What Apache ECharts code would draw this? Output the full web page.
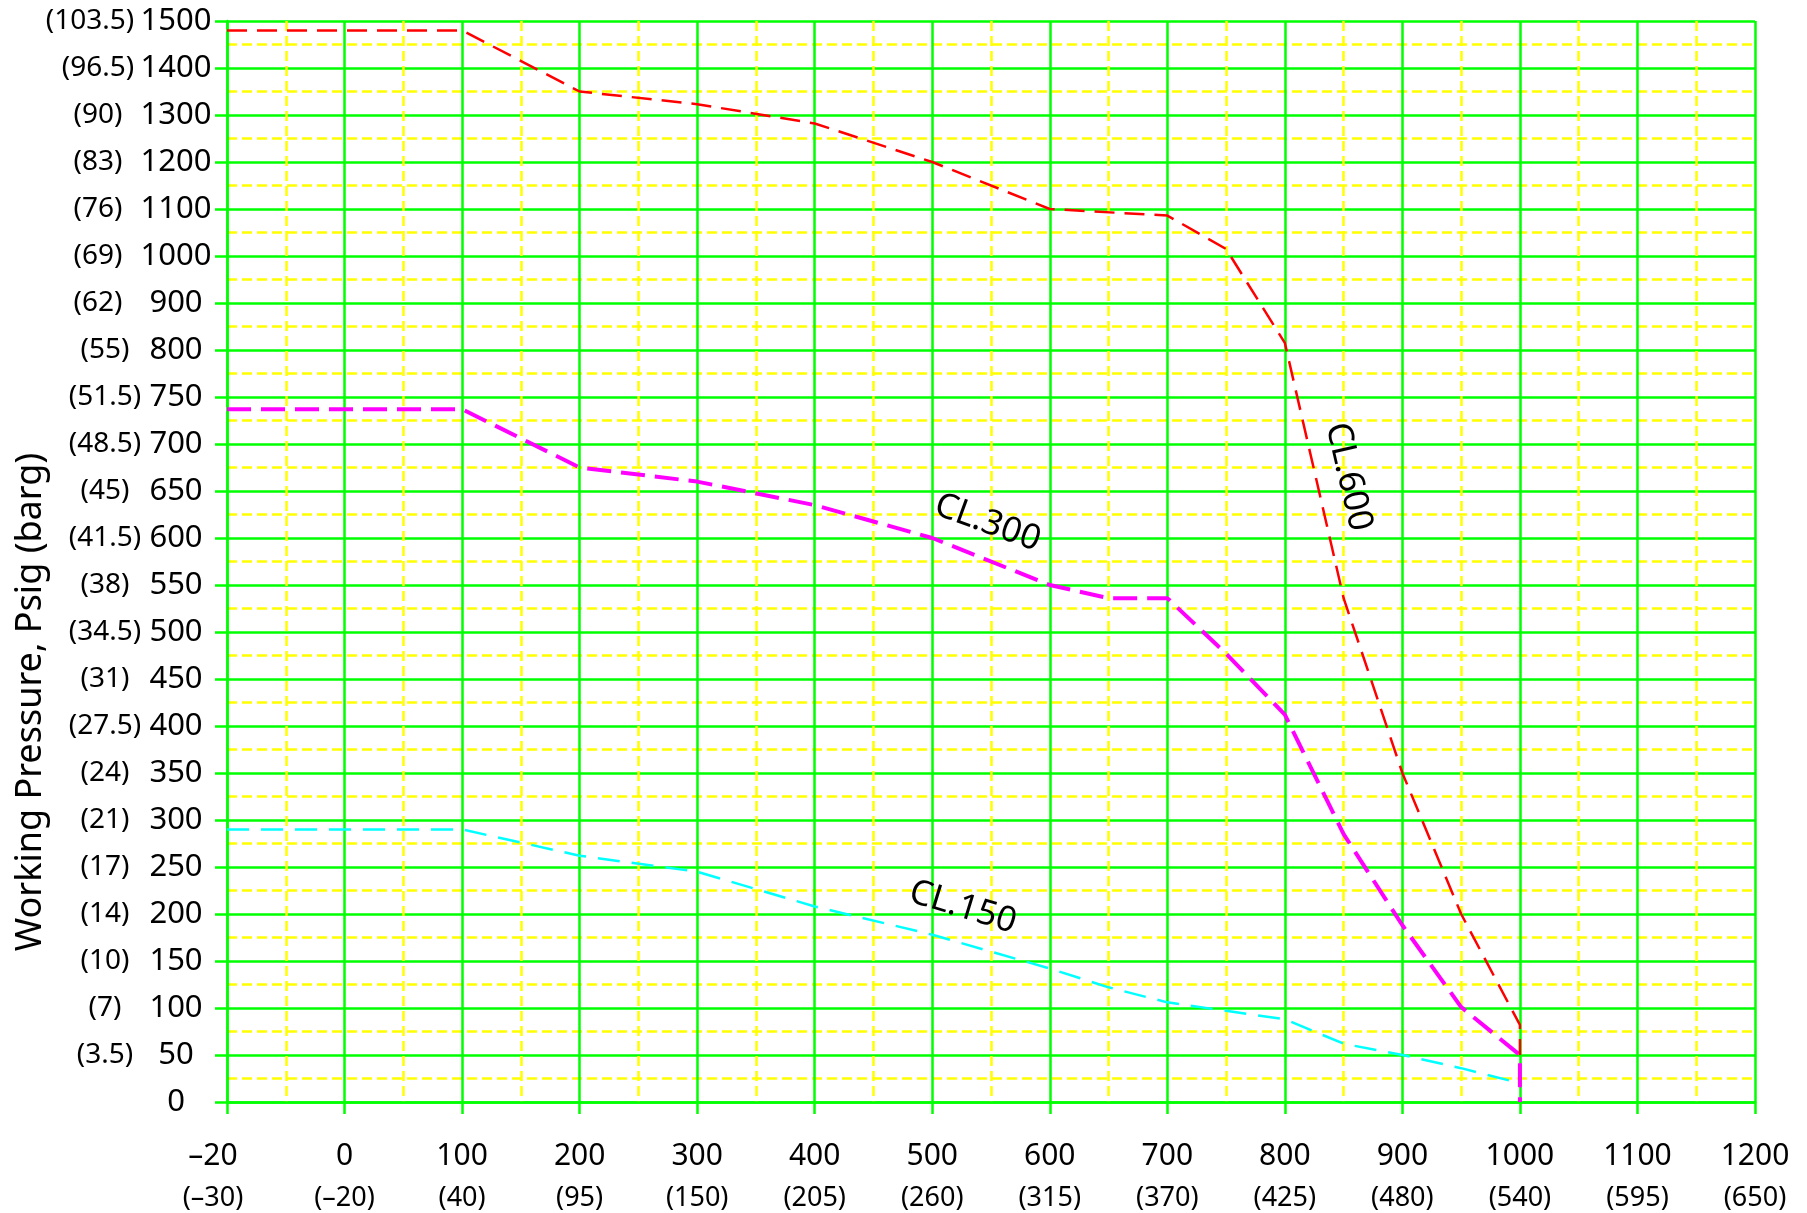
<!DOCTYPE html>
<html>
<head>
<meta charset="utf-8">
<script src="https://cdn.jsdelivr.net/npm/echarts@6/dist/echarts.min.js"></script>
<style>
html,body{margin:0;padding:0;background:#fff;}
#chart{width:1807px;height:1213px;}
</style>
</head>
<body>
<div id="chart"></div>
<script>
// Temperature ticks (°F), evenly spaced on the axis, with °C equivalents
const tempF = [-20, 0, 100, 200, 300, 400, 500, 600, 700, 800, 900, 1000, 1100, 1200];
const tempFLabels = ['–20', '0', '100', '200', '300', '400', '500', '600', '700', '800', '900', '1000', '1100', '1200'];
const tempCLabels = ['(–30)', '(–20)', '(40)', '(95)', '(150)', '(205)', '(260)', '(315)', '(370)', '(425)', '(480)', '(540)', '(595)', '(650)'];

// Pressure ticks (psig), evenly spaced on the axis, with barg equivalents
const psigTicks = [0, 50, 100, 150, 200, 250, 300, 350, 400, 450, 500, 550, 600, 650, 700, 750, 800, 900, 1000, 1100, 1200, 1300, 1400, 1500];
const bargLabels = ['', '(3.5)', '(7)', '(10)', '(14)', '(17)', '(21)', '(24)', '(27.5)', '(31)', '(34.5)', '(38)', '(41.5)', '(45)', '(48.5)', '(51.5)', '(55)', '(62)', '(69)', '(76)', '(83)', '(90)', '(96.5)', '(103.5)'];

// Pressure-temperature ratings
const cl600T = [-20, 0, 100, 200, 300, 400, 500, 600, 700, 750, 800, 850, 900, 950, 1000, 1000];
const cl600P = [1480, 1480, 1480, 1350, 1323, 1282, 1200, 1100, 1086, 1015, 815, 536, 350, 200, 82, 50];

const cl300T = [-20, 0, 100, 200, 300, 400, 500, 600, 650, 700, 750, 800, 850, 900, 950, 1000, 1000];
const cl300P = [737, 737, 737, 675, 660, 635, 600, 550, 536, 536, 477, 412, 285, 188, 101, 50, 0];

const cl150T = [-20, 0, 100, 200, 300, 400, 500, 600, 650, 700, 800, 850, 900, 950, 1000];
const cl150P = [290, 290, 290, 262, 245, 208, 178, 142, 122, 106, 88, 62, 50, 36, 20];

// Curve annotations (anchored in data units)
const classNames = ['CL.600', 'CL.300', 'CL.150'];
const classLabelT = [854, 547, 526];
const classLabelP = [665, 616, 207];
const classLabelAngle = [-77, -20, -17];

const FONT = 'Noto Sans';
const GREEN = '#00ff00';
const YELLOW = '#ffff00';

// position of a value on an axis whose ticks are evenly spaced
function toIndex(v, ticks) {
  for (let i = 0; i < ticks.length - 1; i++) {
    if (v <= ticks[i + 1] || i === ticks.length - 2) {
      return i + (v - ticks[i]) / (ticks[i + 1] - ticks[i]);
    }
  }
}
function pts(T, P) {
  return T.map((t, i) => [toIndex(t, tempF), toIndex(P[i], psigTicks)]);
}
function labelPoint(k) {
  return {
    coord: [toIndex(classLabelT[k], tempF), toIndex(classLabelP[k], psigTicks)],
    label: {
      show: true, position: 'inside', formatter: classNames[k], rotate: classLabelAngle[k],
      fontSize: 35, fontFamily: FONT, color: '#000'
    }
  };
}
function makeSeries(name, T, P, color, width, dash, k) {
  return {
    type: 'line', name: name, data: pts(T, P), symbol: 'none', silent: true,
    lineStyle: {color: color, width: width, type: dash},
    markPoint: {
      symbol: 'circle', symbolSize: 0, silent: true,
      itemStyle: {color: 'transparent'},
      data: [labelPoint(k)]
    }
  };
}

const chart = echarts.init(document.getElementById('chart'));
const option = {
  animation: false,
  backgroundColor: '#ffffff',
  grid: {left: 227, right: 52, top: 21, bottom: 111},
  xAxis: {
    type: 'value', min: 0, max: tempF.length - 1, interval: 1,
    axisLine: {show: true, onZero: false, lineStyle: {color: GREEN, width: 2.5}},
    axisTick: {show: true, length: 12, lineStyle: {color: GREEN, width: 2.5}},
    splitLine: {show: true, lineStyle: {color: GREEN, width: 2.5}},
    minorTick: {show: false, splitNumber: 2},
    minorSplitLine: {show: true, lineStyle: {color: YELLOW, width: 2.5, type: [10, 5]}},
    axisLabel: {
      margin: 33, showMinLabel: true, showMaxLabel: true,
      formatter: function (v) {
        const i = Math.round(v);
        if (i === 0) return '{t0|' + tempFLabels[i] + '}\n{c0|' + tempCLabels[i] + '}';
        return '{t|' + tempFLabels[i] + '}\n{c|' + tempCLabels[i] + '}';
      },
      rich: {
        t: {fontSize: 30, fontFamily: FONT, color: '#000', lineHeight: 42},
        c: {fontSize: 27, fontFamily: FONT, color: '#000', lineHeight: 42},
        t0: {fontSize: 30, fontFamily: FONT, color: '#000', lineHeight: 42, padding: [0, 28, 0, 0]},
        c0: {fontSize: 27, fontFamily: FONT, color: '#000', lineHeight: 42, padding: [0, 28, 0, 0]}
      }
    }
  },
  yAxis: {
    type: 'value', min: 0, max: psigTicks.length - 1, interval: 1,
    axisLine: {show: true, onZero: false, lineStyle: {color: GREEN, width: 2.5}},
    axisTick: {show: true, length: 12, lineStyle: {color: GREEN, width: 2.5}},
    splitLine: {show: true, lineStyle: {color: GREEN, width: 2.5}},
    minorTick: {show: false, splitNumber: 2},
    minorSplitLine: {show: true, lineStyle: {color: YELLOW, width: 2.5, type: [10, 5]}},
    axisLabel: {
      margin: 16, showMinLabel: true, showMaxLabel: true,
      formatter: function (v) {
        const i = Math.round(v);
        const key = i === 23 ? 'bA' : (i >= 17 ? 'bB' : 'bC');
        return '{' + key + '|' + bargLabels[i] + '}{p|' + psigTicks[i] + '}';
      },
      rich: {
        bA: {fontSize: 28, fontFamily: FONT, color: '#000', width: 102, align: 'center'},
        bB: {fontSize: 28, fontFamily: FONT, color: '#000', width: 86, align: 'center'},
        bC: {fontSize: 28, fontFamily: FONT, color: '#000', width: 72, align: 'center'},
        p: {fontSize: 31, fontFamily: FONT, color: '#000', width: 70, align: 'center'}
      }
    }
  },
  graphic: [{
    type: 'text', x: 31, y: 702, rotation: Math.PI / 2, silent: true,
    style: {
      text: 'Working Pressure, Psig (barg)', fontSize: 36, fontFamily: FONT,
      fill: '#000', align: 'center', verticalAlign: 'middle'
    }
  }],
  series: [
    makeSeries('CL.150', cl150T, cl150P, '#00ffff', 2.5, [22, 12], 2),
    makeSeries('CL.300', cl300T, cl300P, '#ff00ff', 4, [24, 10], 1),
    makeSeries('CL.600', cl600T, cl600P, '#ff0000', 2.5, [20, 10], 0)
  ]
};
chart.setOption(option);
</script>
</body>
</html>
